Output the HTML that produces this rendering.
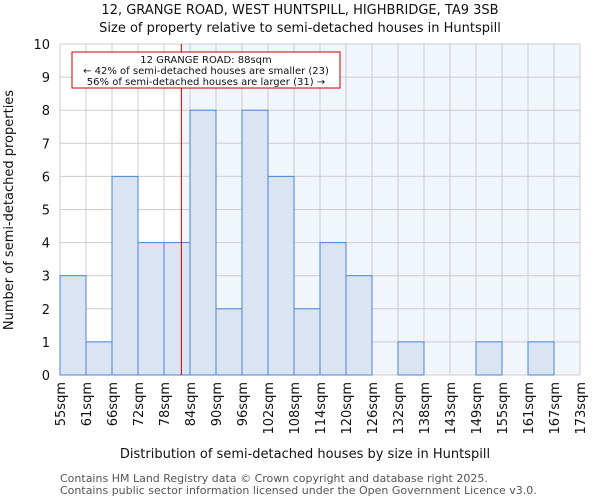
<!DOCTYPE html>
<html><head><meta charset="utf-8"><style>
body{margin:0;background:#fff;font-family:"DejaVu Sans","Liberation Sans",sans-serif}
svg text{font-family:"DejaVu Sans","Liberation Sans",sans-serif;fill:#111}
</style></head><body>
<svg id="chart" width="600" height="500" viewBox="0 0 600 500">
<text x="300" y="14" text-anchor="middle" font-size="13">12, GRANGE ROAD, WEST HUNTSPILL, HIGHBRIDGE, TA9 3SB</text>
<text x="300" y="32" text-anchor="middle" font-size="13">Size of property relative to semi-detached houses in Huntspill</text>
<g id="plot"></g>
<text x="305" y="458" text-anchor="middle" font-size="13">Distribution of semi-detached houses by size in Huntspill</text>
<text transform="translate(13,210) rotate(-90)" text-anchor="middle" font-size="13">Number of semi-detached properties</text>
<text x="60" y="482" font-size="11" fill="#555" style="fill:#555">Contains HM Land Registry data © Crown copyright and database right 2025.</text>
<text x="60" y="494" font-size="11" style="fill:#555">Contains public sector information licensed under the Open Government Licence v3.0.</text>
</svg>
<script>
const binLabels=["55sqm","61sqm","66sqm","72sqm","78sqm","84sqm","90sqm","96sqm","102sqm","108sqm","114sqm","120sqm","126sqm","132sqm","138sqm","143sqm","149sqm","155sqm","161sqm","167sqm","173sqm"];
const counts=[3,1,6,4,4,8,2,8,6,2,4,3,0,1,0,0,1,0,1,0];
const yTicks=[0,1,2,3,4,5,6,7,8,9,10];
const markerBinPos=[4.667];
const NS="http://www.w3.org/2000/svg";
const X0=60,X1=580,Y0=375,Y1=44,YMAX=10;
const nb=counts.length;
const xs=i=>X0+(X1-X0)*i/nb;
const ys=v=>Y0-(Y0-Y1)*v/YMAX;
const g=document.getElementById('plot');
function mk(t,a){const e=document.createElementNS(NS,t);for(const k in a)e.setAttribute(k,a[k]);g.appendChild(e);return e;}
const mx=xs(markerBinPos[0]);
let bg=mk('rect',{x:mx,y:Y1,width:X1-mx,height:Y0-Y1,fill:'#f1f5fc'});


for(let i=0;i<=nb;i++){let l=mk('line',{x1:xs(i),x2:xs(i),y1:Y1,y2:Y0,stroke:'#ccc','stroke-width':1});

}
yTicks.forEach(v=>{let l=mk('line',{x1:X0,x2:X1,y1:ys(v),y2:ys(v),stroke:'#ccc','stroke-width':1});


let t=mk('text',{x:X0-10,y:ys(v)+5,'text-anchor':'end','font-size':13});t.textContent=v;

});
counts.forEach((c,i)=>{if(c<=0)return;let r=mk('rect',{x:xs(i),y:ys(c),width:xs(1)-xs(0),height:Y0-ys(c),fill:'#dae4f3',stroke:'#4a86d4','stroke-width':1});

});
binLabels.forEach((s,i)=>{let t=mk('text',{transform:`translate(${xs(i)+5},382) rotate(-90)`,'text-anchor':'end','font-size':13});t.textContent=s;

});
let ml=mk('line',{x1:mx,x2:mx,y1:Y1,y2:Y0,stroke:'#b00','stroke-width':1});


let box=mk('rect',{x:72,y:52,width:268,height:36,fill:'#fff',stroke:'#c00','stroke-width':1});


["12 GRANGE ROAD: 88sqm","← 42% of semi-detached houses are smaller (23)","56% of semi-detached houses are larger (31) →"].forEach((s,i)=>{let t=mk('text',{x:206,y:63+i*11,'text-anchor':'middle','font-size':10});t.textContent=s;

});
</script>
</body></html>
